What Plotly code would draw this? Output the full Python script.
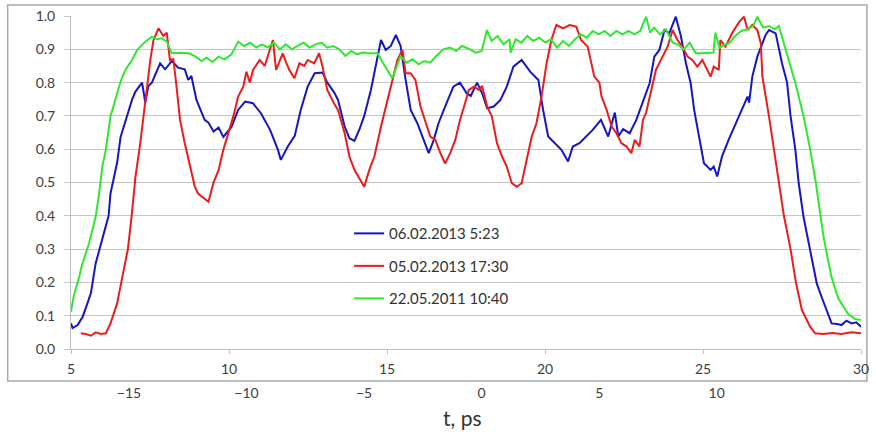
import plotly.graph_objects as go

# ---------------- data ----------------
series_names = ["06.02.2013 5:23", "05.02.2013 17:30", "22.05.2011 10:40"]

blue_x = [5.00, 5.05, 5.21, 5.37, 5.52, 5.63, 5.78, 5.89, 6.02, 6.19, 6.25, 6.36, 6.46, 6.57, 6.78, 6.93,
          7.04, 7.25, 7.35, 7.45, 7.56, 7.82, 7.98, 8.19, 8.39, 8.60, 8.71, 8.81, 8.97, 9.23, 9.35, 9.51,
          9.67, 9.82, 10.08, 10.29, 10.51, 10.76, 11.01, 11.30, 11.55, 11.64, 11.86, 12.08, 12.27, 12.49,
          12.71, 12.96, 13.11, 13.33, 13.45, 13.66, 13.81, 13.97, 14.13, 14.28, 14.49, 14.65, 14.81, 14.96,
          15.12, 15.28, 15.43, 15.59, 15.75, 15.96, 16.16, 16.32, 16.48, 16.63, 16.84, 17.10, 17.31, 17.52,
          17.65, 17.85, 18.01, 18.17, 18.38, 18.59, 18.79, 19.00, 19.26, 19.53, 19.79, 19.94, 20.10, 20.31,
          20.52, 20.73, 20.88, 21.09, 21.30, 21.51, 21.77, 22.00, 22.21, 22.32, 22.47, 22.68, 22.89, 23.10,
          23.31, 23.46, 23.62, 23.78, 23.93, 24.14, 24.30, 24.46, 24.61, 24.72, 24.87, 25.03, 25.24, 25.34,
          25.45, 25.60, 25.81, 26.04, 26.25, 26.41, 26.46, 26.56, 26.72, 26.88, 26.98, 27.09, 27.30, 27.50,
          27.66, 27.77, 27.92, 28.03, 28.18, 28.39, 28.60, 28.75, 28.91, 29.07, 29.25, 29.38, 29.54, 29.70,
          29.85, 30.00]
blue_y = [0.077, 0.063, 0.072, 0.097, 0.137, 0.168, 0.257, 0.297, 0.347, 0.400, 0.467, 0.517, 0.560, 0.637, 0.700, 0.748,
          0.773, 0.800, 0.740, 0.790, 0.800, 0.858, 0.840, 0.865, 0.845, 0.840, 0.808, 0.820, 0.748, 0.688, 0.680, 0.653,
          0.665, 0.637, 0.667, 0.718, 0.743, 0.738, 0.708, 0.658, 0.598, 0.568, 0.608, 0.640, 0.718, 0.788,
          0.828, 0.830, 0.800, 0.770, 0.748, 0.668, 0.633, 0.625, 0.660, 0.700, 0.778, 0.848, 0.928, 0.898,
          0.910, 0.943, 0.910, 0.808, 0.718, 0.678, 0.628, 0.588, 0.628, 0.678, 0.728, 0.788, 0.800, 0.768,
          0.760, 0.800, 0.768, 0.723, 0.728, 0.748, 0.788, 0.848, 0.868, 0.833, 0.808, 0.718, 0.638, 0.618,
          0.598, 0.563, 0.608, 0.618, 0.638, 0.658, 0.688, 0.638, 0.710, 0.638, 0.660, 0.648, 0.688, 0.743,
          0.798, 0.878, 0.898, 0.958, 0.948, 0.998, 0.940, 0.858, 0.798, 0.718, 0.638, 0.558, 0.538, 0.548,
          0.518, 0.578, 0.628, 0.678, 0.728, 0.758, 0.740, 0.818, 0.878, 0.918, 0.943, 0.958, 0.948, 0.858,
          0.800, 0.700, 0.600, 0.497, 0.397, 0.297, 0.197, 0.157, 0.117, 0.077, 0.075, 0.072, 0.085, 0.077,
          0.080, 0.067]

red_x = [5.31, 5.47, 5.63, 5.78, 5.94, 6.10, 6.25, 6.33, 6.46, 6.59, 6.80, 6.92, 7.04, 7.19, 7.35, 7.51,
         7.61, 7.77, 7.92, 8.03, 8.13, 8.24, 8.34, 8.45, 8.60, 8.76, 8.92, 9.02, 9.23, 9.35, 9.51, 9.67,
         9.82, 9.98, 10.14, 10.29, 10.45, 10.55, 10.66, 10.76, 10.97, 11.13, 11.23, 11.39, 11.49, 11.70,
         11.81, 11.91, 12.07, 12.23, 12.38, 12.49, 12.70, 12.85, 12.96, 13.11, 13.32, 13.45, 13.66, 13.81,
         13.97, 14.13, 14.28, 14.44, 14.60, 14.81, 15.02, 15.17, 15.33, 15.49, 15.59, 15.75, 15.90, 16.06,
         16.22, 16.37, 16.53, 16.69, 16.84, 17.00, 17.16, 17.31, 17.47, 17.59, 17.75, 17.91, 18.01, 18.17,
         18.32, 18.48, 18.64, 18.79, 18.95, 19.11, 19.26, 19.42, 19.58, 19.73, 19.89, 20.05, 20.20, 20.36,
         20.57, 20.78, 20.99, 21.14, 21.35, 21.56, 21.72, 21.79, 21.95, 22.11, 22.26, 22.42, 22.58, 22.73,
         22.84, 22.99, 23.10, 23.20, 23.36, 23.51, 23.72, 23.88, 24.04, 24.19, 24.35, 24.51, 24.66, 24.82,
         24.98, 25.13, 25.24, 25.34, 25.50, 25.55, 25.71, 25.92, 26.15, 26.30, 26.41, 26.56, 26.72, 26.83,
         26.88, 27.09, 27.24, 27.40, 27.56, 27.77, 27.94, 28.13, 28.39, 28.55, 28.80, 29.10, 29.38, 29.70,
         30.00]
red_y = [0.047, 0.045, 0.040, 0.050, 0.045, 0.047, 0.077, 0.100, 0.137, 0.200, 0.300, 0.400, 0.517, 0.617, 0.748, 0.868,
         0.928, 0.963, 0.940, 0.950, 0.868, 0.870, 0.788, 0.688, 0.618, 0.557, 0.487, 0.467, 0.452, 0.442, 0.500, 0.537,
         0.598, 0.648, 0.700, 0.758, 0.788, 0.833, 0.800, 0.838, 0.868, 0.850, 0.878, 0.928, 0.838, 0.888,
         0.860, 0.838, 0.813, 0.858, 0.850, 0.868, 0.858, 0.888, 0.848, 0.778, 0.738, 0.718, 0.648, 0.578,
         0.538, 0.512, 0.487, 0.538, 0.578, 0.668, 0.748, 0.808, 0.868, 0.898, 0.828, 0.828, 0.808, 0.728,
         0.678, 0.638, 0.628, 0.588, 0.557, 0.588, 0.628, 0.688, 0.738, 0.778, 0.788, 0.778, 0.790, 0.728,
         0.698, 0.618, 0.578, 0.548, 0.498, 0.487, 0.498, 0.567, 0.638, 0.678, 0.758, 0.858, 0.928, 0.973,
         0.963, 0.973, 0.968, 0.928, 0.908, 0.818, 0.800, 0.758, 0.718, 0.668, 0.648, 0.618, 0.608, 0.588,
         0.628, 0.608, 0.688, 0.710, 0.778, 0.838, 0.878, 0.908, 0.958, 0.928, 0.908, 0.878, 0.868, 0.848,
         0.868, 0.838, 0.818, 0.848, 0.838, 0.928, 0.908, 0.948, 0.983, 0.998, 0.958, 0.973, 0.958, 0.918,
         0.818, 0.698, 0.598, 0.497, 0.400, 0.300, 0.200, 0.117, 0.067, 0.047, 0.045, 0.048, 0.045, 0.050,
         0.047]

green_x = [5.00, 5.09, 5.26, 5.34, 5.57, 5.78, 5.89, 5.99, 6.10, 6.25, 6.46, 6.57, 6.72, 6.93, 7.09, 7.35,
           7.56, 7.72, 7.87, 8.03, 8.19, 8.41, 8.73, 8.95, 9.13, 9.29, 9.48, 9.67, 9.86, 10.08, 10.29, 10.48,
           10.67, 10.86, 11.05, 11.23, 11.42, 11.61, 11.80, 11.99, 12.17, 12.36, 12.55, 12.74, 12.93, 13.11,
           13.30, 13.49, 13.68, 13.87, 14.05, 14.24, 14.43, 14.70, 14.93, 15.17, 15.43, 15.62, 15.81, 16.00,
           16.18, 16.37, 16.56, 16.78, 17.00, 17.19, 17.37, 17.63, 17.81, 18.00, 18.16, 18.31, 18.50, 18.69,
           18.88, 18.91, 19.07, 19.25, 19.44, 19.63, 19.82, 20.01, 20.19, 20.38, 20.57, 20.76, 20.95, 21.13,
           21.32, 21.51, 21.70, 21.89, 22.07, 22.26, 22.45, 22.64, 22.83, 23.01, 23.20, 23.33, 23.45, 23.64,
           23.83, 24.04, 24.20, 24.39, 24.58, 24.77, 24.96, 25.14, 25.33, 25.39, 25.52, 25.71, 25.83, 26.02,
           26.21, 26.40, 26.59, 26.72, 26.90, 27.09, 27.27, 27.40, 27.56, 27.74, 27.92, 28.18, 28.39, 28.57,
           28.68, 28.81, 28.93, 29.07, 29.28, 29.59, 29.81, 30.00]
green_y = [0.112, 0.160, 0.217, 0.250, 0.317, 0.397, 0.467, 0.547, 0.598, 0.698, 0.768, 0.803, 0.838, 0.868, 0.898, 0.923,
           0.938, 0.930, 0.933, 0.923, 0.888, 0.890, 0.888, 0.878, 0.865, 0.875, 0.862, 0.878, 0.870, 0.885, 0.923, 0.910,
           0.920, 0.905, 0.915, 0.905, 0.920, 0.900, 0.915, 0.900, 0.910, 0.920, 0.905, 0.915, 0.920, 0.905,
           0.910, 0.900, 0.880, 0.895, 0.885, 0.890, 0.888, 0.888, 0.850, 0.813, 0.880, 0.860, 0.870, 0.855,
           0.865, 0.860, 0.880, 0.900, 0.905, 0.895, 0.910, 0.900, 0.890, 0.895, 0.958, 0.925, 0.940, 0.915,
           0.930, 0.890, 0.930, 0.920, 0.940, 0.925, 0.935, 0.920, 0.930, 0.905, 0.925, 0.910, 0.930, 0.945,
           0.935, 0.955, 0.945, 0.955, 0.940, 0.955, 0.945, 0.955, 0.945, 0.955, 0.998, 0.950, 0.965, 0.945,
           0.960, 0.920, 0.915, 0.900, 0.920, 0.888, 0.888, 0.888, 0.890, 0.950, 0.905, 0.915, 0.918, 0.940,
           0.955, 0.960, 0.970, 0.998, 0.965, 0.970, 0.960, 0.970, 0.918, 0.860, 0.800, 0.700, 0.600, 0.500,
           0.420, 0.340, 0.280, 0.215, 0.152, 0.106, 0.090, 0.087]

top_ticks = [5, 10, 15, 20, 25, 30]
t_ticks = [-15, -10, -5, 0, 5, 10]
y_ticks = [0.0, 0.1, 0.2, 0.3, 0.4, 0.5, 0.6, 0.7, 0.8, 0.9, 1.0]
x_title = "t, ps"

# ---------------- figure ----------------
colors = ["#1515c4", "#ec1c1c", "#2fe82f"]
FONT = "Lato"
TICKC = "#404040"

fig = go.Figure()
for i, (xs, ys) in enumerate([(blue_x, blue_y), (red_x, red_y), (green_x, green_y)]):
    fig.add_trace(go.Scatter(x=xs, y=ys, mode="lines", name=series_names[i],
                             legendgroup=f"g{i}",
                             line=dict(color=colors[i], width=2)))

# carrier trace for the second (t, ps) axis
fig.add_trace(go.Scatter(x=t_ticks, y=[None] * len(t_ticks), xaxis="x2", mode="lines",
                         showlegend=False, hoverinfo="skip"))

fig.update_layout(
    width=876, height=432,
    margin=dict(l=71, r=7, t=16, b=49),
    paper_bgcolor="white", plot_bgcolor="white",
    font=dict(family=FONT, size=14, color=TICKC),
    showlegend=True,
    legend=dict(x=0.352, y=0.452, xanchor="left", yanchor="top",
                bgcolor="rgba(0,0,0,0)", font=dict(size=15, color="#333333"),
                traceorder="grouped", tracegroupgap=10),
    xaxis=dict(range=[5, 30], tickvals=top_ticks, ticks="outside", ticklen=4,
               tickcolor="#bfbfbf", showline=True, linecolor="#bfbfbf", linewidth=1,
               showgrid=False, zeroline=False, anchor="y",
               tickfont=dict(size=14, color=TICKC), ticklabelstandoff=3,
               ticklabeloverflow="allow"),
    xaxis2=dict(range=[-17.468, 16.137], tickvals=t_ticks, overlaying="x",
                anchor="free", position=0, side="bottom", showline=False,
                ticks="", showgrid=False, zeroline=False,
                tickfont=dict(size=14, color=TICKC), ticklabeloverflow="allow"),
    yaxis=dict(domain=[0.0926, 1], range=[0, 1], tickvals=y_ticks, tickformat=".1f",
               showgrid=True, gridcolor="#c6c6c6", gridwidth=1,
               showline=True, linecolor="#bfbfbf", ticks="outside", ticklen=6,
               tickcolor="#c6c6c6", zeroline=False,
               tickfont=dict(size=14, color=TICKC), ticklabelstandoff=6),
    shapes=[dict(type="rect", xref="paper", yref="paper",
                 x0=-0.0802, x1=1.0075, y0=0.0054, y1=1.030,
                 line=dict(color="#a8a8a8", width=1.5), fillcolor="rgba(0,0,0,0)",
                 layer="below")],
    annotations=[dict(text=x_title, xref="paper", yref="paper", x=0.495, y=-0.093,
                      showarrow=False, font=dict(size=21, color="#333333"),
                      xanchor="center", yanchor="middle")],
)

fig.write_html("out.html", config={"displayModeBar": False},
               post_script="document.body.style.margin='0';document.body.style.overflow='hidden';")
